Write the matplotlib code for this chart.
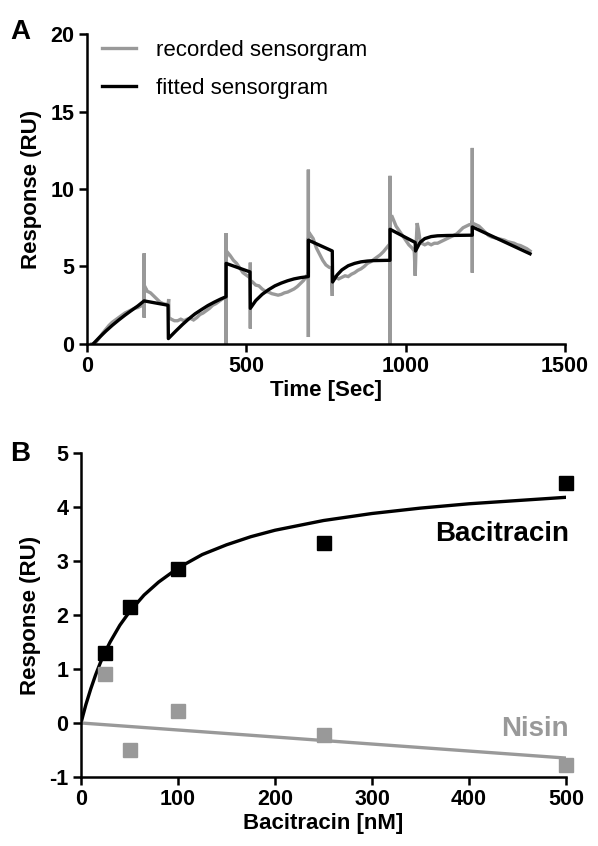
import matplotlib
matplotlib.use("Agg")
import matplotlib.pyplot as plt

plt.rcParams['font.family'] = ['Liberation Sans', 'DejaVu Sans']
plt.rcParams['axes.unicode_minus'] = False

# ---------------- Panel A data ----------------
rec_t = [15, 20, 30, 40, 50, 60, 70, 80, 90, 100, 110, 120, 130, 140, 150, 160, 170, 178,
         180, 180, 180, 180,
         185, 190, 200, 210, 220, 230, 240, 250, 255,
         257, 258,
         265, 275, 285, 295, 305, 315, 325, 335, 345, 355, 365, 375, 385, 395, 405, 415, 425, 433,
         437, 437, 437, 437,
         442, 450, 460, 470, 480, 490, 500, 510,
         513, 513, 513, 513,
         520, 530, 540, 550, 560, 570, 580, 590, 600, 610, 620, 630, 640, 650, 660, 670, 680, 690,
         695, 695, 695, 695,
         700, 710, 720, 730, 740, 750, 760, 768,
         770, 770,
         780, 790, 800, 810, 820, 830, 840, 850, 860, 870, 880, 890, 900, 910, 920, 930, 940, 948,
         951, 951, 951, 951,
         956, 962, 970, 980, 990, 1000, 1010, 1020, 1027,
         1030, 1033, 1036, 1040, 1045, 1050, 1060, 1070, 1080, 1090, 1100, 1110, 1120, 1130, 1140,
         1150, 1160, 1170, 1180, 1190, 1200, 1206,
         1209, 1209, 1209, 1209,
         1220, 1230, 1240, 1250, 1260, 1270, 1280, 1290, 1300, 1310, 1320, 1330, 1340, 1350, 1360,
         1370, 1380, 1390]
rec_y = [0.0, 0.0, 0.15, 0.4, 0.7, 0.95, 1.2, 1.4, 1.55, 1.7, 1.85, 2.0, 2.1, 2.2, 2.3, 2.35, 2.45, 2.5,
         2.5, 5.85, 1.7, 3.3,
         3.6, 3.4, 3.3, 3.1, 2.9, 2.7, 2.6, 2.55, 2.5,
         2.9, 1.7,
         1.6, 1.5, 1.5, 1.6, 1.5, 1.6, 1.65, 1.55, 1.7, 1.9, 2.0, 2.15, 2.3, 2.5, 2.6, 2.75, 2.9, 3.0,
         3.05, 7.15, 0.0, 5.5,
         5.9, 5.7, 5.4, 5.2, 4.9, 4.6, 4.45, 4.3,
         4.3, 5.25, 1.0, 4.1,
         4.0, 3.8, 3.75, 3.55, 3.4, 3.35, 3.25, 3.2, 3.15, 3.2, 3.3, 3.35, 3.45, 3.55, 3.7, 3.9, 4.1, 4.4,
         4.6, 11.25, 0.45, 6.8,
         7.1, 6.8, 6.2, 5.8, 5.4, 5.1, 4.95, 4.9,
         3.1, 4.4,
         4.3, 4.2, 4.3, 4.4, 4.35, 4.5, 4.6, 4.75, 4.85, 5.0, 5.2, 5.3, 5.45, 5.6, 5.75, 5.95, 6.2, 6.4,
         6.4, 10.85, 0.0, 7.8,
         8.3, 8.0, 7.6, 7.3, 7.0, 6.7, 6.4, 6.2, 6.0,
         4.4, 6.5, 7.8, 7.4, 6.7, 6.5, 6.4, 6.5, 6.4, 6.5, 6.5, 6.6, 6.7, 6.8, 6.9,
         7.0, 7.1, 7.3, 7.5, 7.6, 7.7, 7.7,
         7.7, 12.65, 4.6, 7.8,
         7.7, 7.6, 7.4, 7.2, 7.0, 6.9, 6.85, 6.8, 6.75, 6.7, 6.6, 6.55, 6.5, 6.4, 6.35,
         6.25, 6.15, 6.0]

fit_t = [20, 40, 60, 80, 100, 120, 140, 160, 180,
         255, 256,
         256, 280, 300, 320, 340, 360, 380, 400, 420, 437,
         437, 512,
         513, 530, 550, 570, 590, 610, 630, 650, 670, 695,
         695, 770,
         771, 785, 800, 820, 840, 860, 880, 900, 951,
         951, 1030,
         1031, 1045, 1060, 1080, 1100, 1130, 1209,
         1209, 1390]
fit_y = [0.0, 0.43, 0.83, 1.2, 1.54, 1.86, 2.16, 2.45, 2.78,
         2.5, 0.35,
         0.35, 0.85, 1.25, 1.62, 1.95, 2.22, 2.48, 2.7, 2.9, 3.05,
         5.2, 4.65,
         2.3, 2.8, 3.2, 3.5, 3.75, 3.93, 4.08, 4.2, 4.28, 4.35,
         6.7, 6.0,
         4.0, 4.45, 4.78, 5.05, 5.2, 5.3, 5.35, 5.38, 5.4,
         7.4, 6.55,
         6.0, 6.55, 6.8, 6.93, 6.98, 7.0, 7.02,
         7.55, 5.82]

# ---------------- Panel B data ----------------
conc = [25, 50, 100, 250, 500]
bacitracin = [1.30, 2.15, 2.86, 3.34, 4.45]
nisin = [0.91, -0.50, 0.22, -0.22, -0.78]

bac_fit_x = [0, 2, 5, 10, 15, 20, 25, 30, 40, 50, 65, 80, 100, 125, 150, 175, 200, 250, 300,
             350, 400, 450, 500]
bac_fit_y = [0.0, 0.14, 0.34, 0.63, 0.89, 1.12, 1.32, 1.50, 1.81, 2.06, 2.37, 2.61, 2.87, 3.12,
             3.30, 3.45, 3.57, 3.75, 3.88, 3.98, 4.06, 4.12, 4.18]
nis_fit_x = [0, 500]
nis_fit_y = [0.0, -0.65]

GRAY = '#999999'

fig = plt.figure(figsize=(5.98, 8.46), dpi=100)

axA = fig.add_axes([0.145, 0.5934, 0.80, 0.3664])
axB = fig.add_axes([0.1355, 0.0816, 0.811, 0.3829])

tick_fs = 15.5
lab_fs = 16

def style(ax):
    for s in ['top', 'right']:
        ax.spines[s].set_visible(False)
    for s in ['left', 'bottom']:
        ax.spines[s].set_linewidth(1.8)
    ax.tick_params(direction='out', length=6, width=1.8, labelsize=tick_fs, pad=3)
    for lab in ax.get_xticklabels() + ax.get_yticklabels():
        lab.set_fontweight('bold')

# Panel A
axA.plot(rec_t, rec_y, color=GRAY, lw=2.4, label='recorded sensorgram', solid_joinstyle='miter')
axA.plot(fit_t, fit_y, color='black', lw=2.4, label='fitted sensorgram')
axA.set_xlim(0, 1500)
axA.set_ylim(0, 20)
axA.set_xticks([0, 500, 1000, 1500])
axA.set_yticks([0, 5, 10, 15, 20])
style(axA)
axA.set_xlabel('Time [Sec]', fontsize=lab_fs, fontweight='bold', labelpad=2)
axA.set_ylabel('Response (RU)', fontsize=lab_fs, fontweight='bold', labelpad=6)
axA.legend(loc='upper left', bbox_to_anchor=(0.0, 1.03), frameon=False, fontsize=16,
           handlelength=1.5, handletextpad=0.9, labelspacing=0.75, borderaxespad=0.3)

# Panel B
axB.plot(bac_fit_x, bac_fit_y, color='black', lw=2.4)
axB.plot(nis_fit_x, nis_fit_y, color=GRAY, lw=2.4)
axB.plot(conc, bacitracin, 's', color='black', ms=10, clip_on=False, zorder=5)
axB.plot(conc, nisin, 's', color=GRAY, ms=10, clip_on=False, zorder=5)
axB.set_xlim(0, 500)
axB.set_ylim(-1, 5)
axB.set_xticks([0, 100, 200, 300, 400, 500])
axB.set_yticks([-1, 0, 1, 2, 3, 4, 5])
style(axB)
axB.set_xlabel('Bacitracin [nM]', fontsize=lab_fs, fontweight='bold', labelpad=2)
axB.set_ylabel('Response (RU)', fontsize=lab_fs, fontweight='bold', labelpad=6)
axB.text(503, 3.5, 'Bacitracin', fontsize=20, fontweight='bold', color='black',
         ha='right', va='center')
axB.text(503, -0.12, 'Nisin', fontsize=20, fontweight='bold', color=GRAY,
         ha='right', va='center')

fig.text(0.017, 0.962, 'A', fontsize=20, fontweight='bold', ha='left', va='center')
fig.text(0.017, 0.463, 'B', fontsize=20, fontweight='bold', ha='left', va='center')

fig.savefig('out.png', dpi=100)
